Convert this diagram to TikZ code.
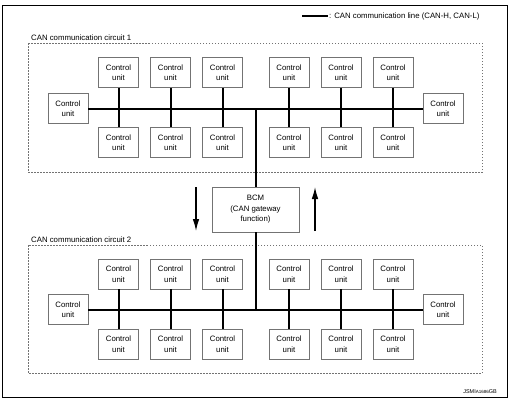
\documentclass[tikz,border=0pt]{standalone}
\usepackage{fontspec}
\setmainfont{Liberation Sans}
\usetikzlibrary{arrows.meta}
\begin{document}
\begin{tikzpicture}[x=1pt,y=-1pt,
  cu/.style={draw=black!55, line width=0.8pt, fill=white, minimum width=40pt, minimum height=30pt, inner sep=0pt, align=center, font=\fontsize{7.8}{10.5}\selectfont},
  bcmbox/.style={cu, minimum width=87pt, minimum height=45pt},
  bus/.style={line width=2pt, black},
  zone/.style={draw=black!55, line width=0.6pt, dash pattern=on 1.5pt off 1.5pt},
  lbl/.style={font=\fontsize{7.8}{9}\selectfont, inner sep=0pt, anchor=base west},
  flow/.style={line width=1.2pt, -{Latex[length=12pt,width=6.5pt]}}
]
\useasboundingbox (0,0) rectangle (510,400);
\draw[line width=1pt] (2.5,5) rectangle (507,397);

% legend
\coordinate (lg1) at (302,16);
\coordinate (lg2) at (328,16);
\draw[bus] (lg1) -- (lg2);
\node[lbl, anchor=west] (legend) at (329,16) {: CAN communication line (CAN-H, CAN-L)};

% zones
\draw[zone] (28,43) rectangle (482,172);
\draw[zone] (28,245) rectangle (482,373);
\node[lbl] (c1) at (31,40) {CAN communication circuit 1};
\node[lbl] (c2) at (31,242) {CAN communication circuit 2};

% circuit 1
\node[cu] (a1) at (118.5,72.5) {Control\\unit};
\node[cu] (a2) at (170.5,72.5) {Control\\unit};
\node[cu] (a3) at (222.5,72.5) {Control\\unit};
\node[cu] (a4) at (289,72.5) {Control\\unit};
\node[cu] (a5) at (341,72.5) {Control\\unit};
\node[cu] (a6) at (393,72.5) {Control\\unit};
\node[cu] (d1) at (118.5,142.5) {Control\\unit};
\node[cu] (d2) at (170.5,142.5) {Control\\unit};
\node[cu] (d3) at (222.5,142.5) {Control\\unit};
\node[cu] (d4) at (289,142.5) {Control\\unit};
\node[cu] (d5) at (341,142.5) {Control\\unit};
\node[cu] (d6) at (393,142.5) {Control\\unit};
\node[cu] (al) at (68,108.5) {Control\\unit};
\node[cu] (ar) at (443,108.5) {Control\\unit};

% circuit 2
\node[cu] (e1) at (118.5,274) {Control\\unit};
\node[cu] (e2) at (170.5,274) {Control\\unit};
\node[cu] (e3) at (222.5,274) {Control\\unit};
\node[cu] (e4) at (289,274) {Control\\unit};
\node[cu] (e5) at (341,274) {Control\\unit};
\node[cu] (e6) at (393,274) {Control\\unit};
\node[cu] (f1) at (118.5,344) {Control\\unit};
\node[cu] (f2) at (170.5,344) {Control\\unit};
\node[cu] (f3) at (222.5,344) {Control\\unit};
\node[cu] (f4) at (289,344) {Control\\unit};
\node[cu] (f5) at (341,344) {Control\\unit};
\node[cu] (f6) at (393,344) {Control\\unit};
\node[cu] (bl) at (68,309.5) {Control\\unit};
\node[cu] (br) at (443,309.5) {Control\\unit};

% BCM
\node[bcmbox] (bcm) at (255.5,209.5) {BCM\\(CAN gateway\\function)};

% buses
\coordinate (j1) at (bcm.north |- al.east);
\coordinate (j2) at (bcm.south |- bl.east);
\draw[bus] (al.east) -- (ar.west);
\draw[bus] (bl.east) -- (br.west);
\draw[bus] (j1) -- (bcm.north);
\draw[bus] (bcm.south) -- (j2);
\foreach \i in {1,...,6}{
  \draw[bus] (a\i.south) -- (d\i.north);
  \draw[bus] (e\i.south) -- (f\i.north);
}

% flow arrows
\coordinate (dn1) at (196,187);
\coordinate (dn2) at (196,231);
\coordinate (up1) at (315,231);
\coordinate (up2) at (315,187);
\draw[flow] (dn1) -- (dn2);
\draw[flow] (up1) -- (up2);

% reference code
\node[font=\fontsize{5.5}{6}\selectfont, inner sep=0pt, anchor=base east] (ref) at (497,393) {JSMI{\fontsize{4.5}{5}\selectfont A1686}GB};
\end{tikzpicture}
\end{document}
